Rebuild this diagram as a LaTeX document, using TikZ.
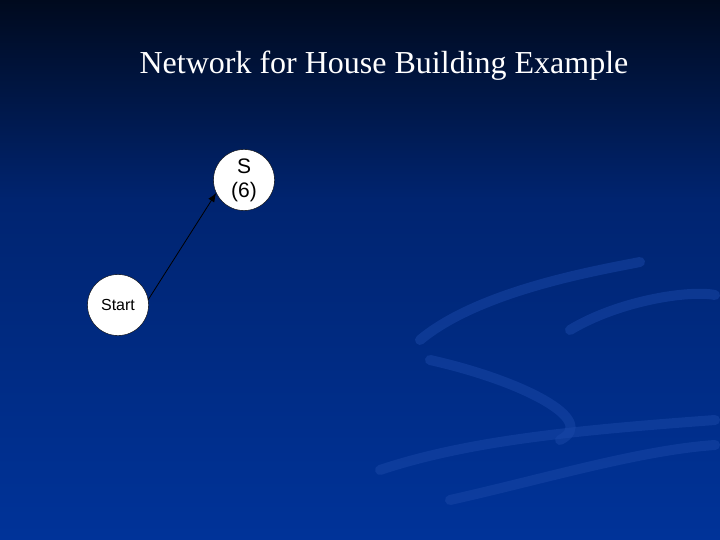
\documentclass[tikz,border=0pt]{standalone}
\usepackage{fontspec}
\setmainfont{Liberation Serif}
\newfontfamily\arialf{Liberation Sans}
\usetikzlibrary{arrows.meta}
\definecolor{topc}{HTML}{000A1E}
\definecolor{midc}{HTML}{002470}
\definecolor{botc}{HTML}{003399}
\definecolor{swoosh}{HTML}{1A48A8}
\begin{document}
\begin{tikzpicture}[x=1pt,y=-1pt,
  circ/.style={circle,draw=black,fill=white,minimum size=61pt,inner sep=0pt,align=center,font=\arialf\fontsize{21}{24}\selectfont},
  circsmall/.style={circ,font=\arialf\fontsize{16}{19}\selectfont}]
\useasboundingbox (0,0) rectangle (720,540);
\shade[top color=topc,bottom color=midc] (0,0) rectangle (720,200);
\shade[top color=midc,bottom color=botc] (0,200) rectangle (720,540);
\begin{scope}[swoosh,line width=10pt,opacity=0.5,line cap=round]
\draw (420,340) .. controls (480,290) and (600,270) .. (640,262);
\draw (570,330) .. controls (620,300) and (690,290) .. (715,295);
\draw (430,360) .. controls (520,380) and (600,420) .. (560,440);
\draw (380,470) .. controls (470,440) and (580,430) .. (715,420);
\draw (450,500) .. controls (540,480) and (640,450) .. (715,445);
\end{scope}
\node[font=\fontsize{32}{36}\selectfont,text=white] (title) at (384,66) {Network for House Building Example};
\node[circ] (S) at (244,180) {S\\(6)};
\node[circsmall] (start) at (118,305) {Start};
\draw[-{Latex[length=9pt,width=7pt]},black,line width=0.8pt] (start.10) -- (S.205);
\end{tikzpicture}
\end{document}
